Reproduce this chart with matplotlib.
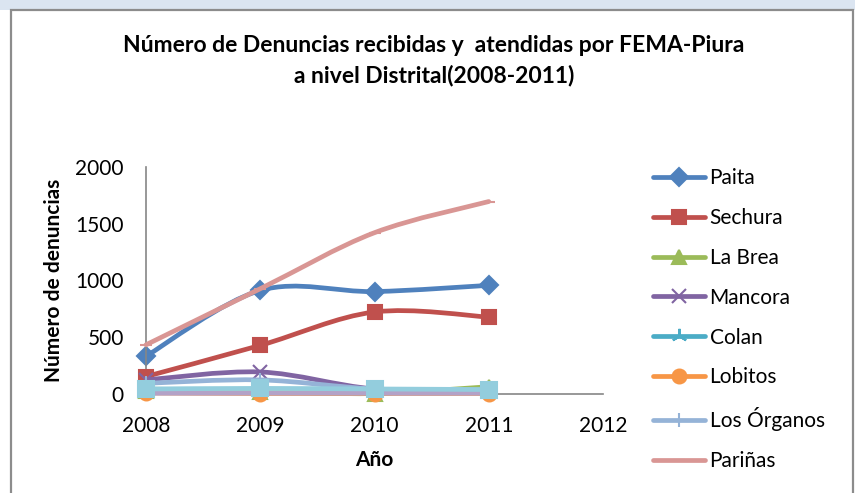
import numpy as np
import matplotlib.pyplot as plt
from matplotlib.path import Path
from matplotlib.patches import PathPatch, Rectangle
from matplotlib.lines import Line2D

plt.rcParams['font.family'] = ['Lato', 'DejaVu Sans']

years = [2008, 2009, 2010, 2011]

paita = [330, 910, 900, 955]
sechura = [150, 425, 720, 675]
la_brea = [25, 15, 0, 60]
mancora = [120, 190, 40, 30]
colan = [15, 20, 20, 15]
lobitos = [5, 0, 0, 0]
los_organos = [90, 120, 40, 30]
parinas = [430, 925, 1420, 1695]
# series below the visible part of the legend (cut off in the original)
extra_9 = [40, 20, 10, 10]
extra_10 = [2, 3, 2, 2]
extra_11 = [40, 45, 40, 35]

series = [
    ('Paita', paita, '#4F81BD', 'D', 9),
    ('Sechura', sechura, '#C0504D', 's', 10),
    ('La Brea', la_brea, '#9BBB59', '^', 10),
    ('Mancora', mancora, '#8064A2', 'x', 10),
    ('Colan', colan, '#4BACC6', (3, 2, 0), 11),
    ('Lobitos', lobitos, '#F79646', 'o', 10),
    ('Los Órganos', los_organos, '#95B3D7', '+', 10),
    ('Pariñas', parinas, '#D99694', '_', 8),
    ('_s9', extra_9, '#C3D69B', None, 0),
    ('_s10', extra_10, '#B3A2C7', None, 0),
    ('_s11', extra_11, '#93CDDD', 's', 12),
]


def smooth_path(x, y):
    # excel style smoothed line: cubic bezier through the points
    pts = np.column_stack([x, y]).astype(float)
    n = len(pts)
    verts = [pts[0]]
    codes = [Path.MOVETO]
    for i in range(n - 1):
        p0 = pts[max(i - 1, 0)]
        p1 = pts[i]
        p2 = pts[i + 1]
        p3 = pts[min(i + 2, n - 1)]
        c1 = p1 + (p2 - p0) / 6.0
        c2 = p2 - (p3 - p1) / 6.0
        verts += [c1, c2, p2]
        codes += [Path.CURVE4] * 3
    return Path(verts, codes)


fig = plt.figure(figsize=(8.55, 4.93), dpi=100)
fig.patch.set_facecolor('white')
# light blue strip at the top of the sheet
fig.patches.append(Rectangle((0, 1 - 10 / 493), 1, 10 / 493, transform=fig.transFigure,
                             facecolor='#dbe5f1', edgecolor='none', zorder=-6))
# chart frame
fig.patches.append(Rectangle((11 / 855, -0.05), 842 / 855, 1.05 - 10 / 493,
                             transform=fig.transFigure, facecolor='white',
                             edgecolor='#8c8c8c', linewidth=1.6, zorder=-5))

ax = fig.add_axes([146 / 855, (493 - 393.5) / 493, 457 / 855, 226.5 / 493])
ax.set_facecolor('none')

handles = []
for k, (name, vals, col, mk, ms) in enumerate(series):
    patch = PathPatch(smooth_path(years, vals), fill=False, edgecolor=col,
                      linewidth=3.4, capstyle='round', joinstyle='round',
                      zorder=2 + k, clip_on=False)
    ax.add_patch(patch)
    if mk is not None:
        ax.plot(years, vals, linestyle='none', marker=mk, markersize=ms,
                color=col, markeredgecolor=col, markeredgewidth=1.5,
                zorder=2.5 + k, clip_on=False)
    if not name.startswith('_'):
        handles.append(Line2D([], [], color=col, linewidth=3.4, marker=mk,
                              markersize=ms, markeredgewidth=1.5,
                              solid_capstyle='round', label=name))

ax.set_xlim(2008, 2012)
ax.set_ylim(0, 2000)
ax.set_xticks([2008, 2009, 2010, 2011, 2012])
ax.set_yticks([0, 500, 1000, 1500, 2000])
ax.tick_params(length=0, labelsize=15, colors='black')
ax.tick_params(axis='y', pad=16)
ax.tick_params(axis='x', pad=16)
for s in ['top', 'right']:
    ax.spines[s].set_visible(False)
for s in ['left', 'bottom']:
    ax.spines[s].set_color('#868686')
    ax.spines[s].set_linewidth(1.2)

ax.set_xlabel('Año', fontsize=15, fontweight='bold', labelpad=10)
ax.set_ylabel('Número de denuncias', fontsize=15, fontweight='bold', labelpad=8)

fig.text(434 / 855, 1 - 45 / 493, 'Número de Denuncias recibidas y  atendidas por FEMA-Piura',
         ha='center', va='center', fontsize=16.5, fontweight='bold')
fig.text(434 / 855, 1 - 75 / 493, 'a nivel Distrital(2008-2011)',
         ha='center', va='center', fontsize=16.5, fontweight='bold')

fig.legend(handles=handles, loc='upper left', bbox_to_anchor=(645 / 855, 1 - 160 / 493),
           frameon=False, fontsize=15, handlelength=2.5, handletextpad=0.2,
           labelspacing=0.95, borderaxespad=0)

fig.savefig('out.png', dpi=100, facecolor=fig.get_facecolor())
